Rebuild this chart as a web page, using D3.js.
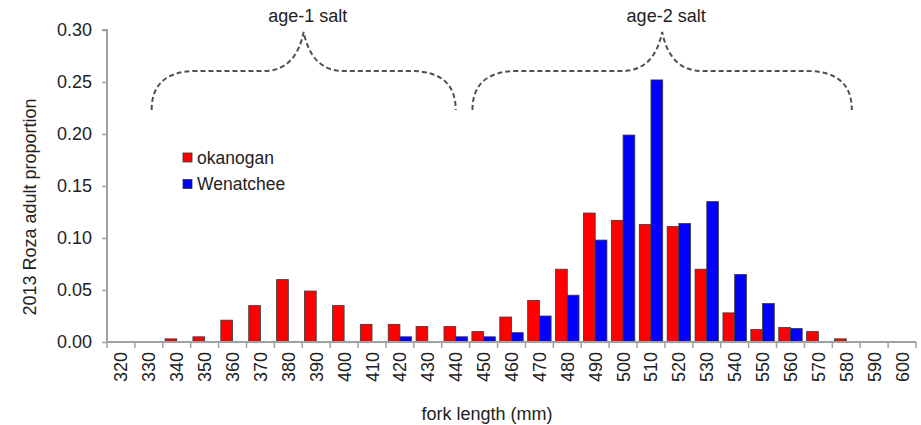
<!DOCTYPE html>
<html><head><meta charset="utf-8">
<script src="https://cdn.jsdelivr.net/npm/d3@7"></script>
<style>body{margin:0;background:#fff;}svg{display:block;font-family:"Liberation Sans",Arial,sans-serif;}</style>
</head><body><svg id="c" width="921" height="425"></svg>
<script>
const categories = [320,330,340,350,360,370,380,390,400,410,420,430,440,450,460,470,480,490,500,510,520,530,540,550,560,570,580,590,600];
const okanogan  = [0,0,0.003,0.005,0.021,0.035,0.060,0.049,0.035,0.017,0.017,0.015,0.015,0.010,0.024,0.040,0.070,0.124,0.117,0.113,0.111,0.070,0.028,0.012,0.014,0.010,0.003,0,0];
const wenatchee = [0,0,0,0,0,0,0,0,0,0,0.005,0,0.005,0.005,0.009,0.025,0.045,0.098,0.199,0.252,0.114,0.135,0.065,0.037,0.013,0,0,0,0];
const seriesNames = ["okanogan","Wenatchee"];
const seriesColors = ["#ff0000","#0000ff"];
const yTicks = [0,0.05,0.10,0.15,0.20,0.25,0.30];
const braceLabels = ["age-1 salt","age-2 salt"];
const braceFrom = [331,446];
const braceTo = [440,582];

const svg = d3.select("#c");
const x0 = 107, x1 = 916, yTop = 30, yBot = 342;
const FS = 18;

const x = d3.scaleBand().domain(categories).range([x0,x1]).paddingInner(0.16).paddingOuter(0.08);
const xb = d3.scaleBand().domain(categories).range([x0,x1]);
const xs = d3.scaleBand().domain([0,1]).range([0,x.bandwidth()]);
const y = d3.scaleLinear().domain([0,0.30]).range([yBot,yTop]);
const lenX = d3.scaleLinear().domain([320,600]).range([xb(320)+xb.bandwidth()/2, xb(600)+xb.bandwidth()/2]);

const axisCol = "#a0a0a0", textCol = "#222";

// bars
const series = [okanogan, wenatchee];
series.forEach((vals,si)=>{
  svg.append("g").selectAll("rect").data(categories.map((c,i)=>({c,v:vals[i]})).filter(d=>d.v>0))
    .join("rect")
    .attr("x",d=>x(d.c)+xs(si))
    .attr("y",d=>y(d.v))
    .attr("width",xs.bandwidth())
    .attr("height",d=>yBot-y(d.v))
    .attr("fill",seriesColors[si])
    .attr("stroke","#3a3a3a").attr("stroke-width",0.8);
});

// y axis
const ya = svg.append("g").attr("transform",`translate(${x0},0)`)
  .call(d3.axisLeft(y).tickValues(yTicks).tickFormat(d3.format(".2f")).tickSize(5).tickPadding(10));
ya.select(".domain").attr("stroke",axisCol).attr("stroke-width",2).attr("d",`M-5,${yTop}H0V${yBot}`);
ya.selectAll(".tick line").attr("stroke",axisCol).attr("stroke-width",1.5);
ya.selectAll(".tick text").attr("fill",textCol).attr("font-size",FS).attr("font-family","Liberation Sans, Arial");

// x axis
const xa = svg.append("g").attr("transform",`translate(0,${yBot})`);
xa.append("path").attr("d",`M${x0},0H${x1}`).attr("stroke",axisCol).attr("stroke-width",2);
xa.selectAll("line.t").data(categories.concat(["end"])).join("line")
  .attr("x1",(d,i)=> i<categories.length? xb(d): x1).attr("x2",(d,i)=> i<categories.length? xb(d): x1)
  .attr("y1",0).attr("y2",6).attr("stroke",axisCol).attr("stroke-width",1.5);
xa.selectAll("text").data(categories).join("text")
  .attr("transform",d=>`translate(${xb(d)+xb.bandwidth()/2+6.5},10) rotate(-90)`)
  .attr("text-anchor","end").attr("font-size",FS).attr("fill",textCol).text(d=>d);

// axis titles
svg.append("text").attr("transform",`translate(36,207) rotate(-90)`).attr("text-anchor","middle")
  .attr("font-size",FS).attr("fill",textCol).text("2013 Roza adult proportion");
svg.append("text").attr("x",487).attr("y",420).attr("text-anchor","middle")
  .attr("font-size",FS).attr("fill",textCol).text("fork length (mm)");

// legend
seriesNames.forEach((n,i)=>{
  const g = svg.append("g").attr("transform",`translate(183,${153+i*26.5})`);
  g.append("rect").attr("width",9).attr("height",9).attr("fill",seriesColors[i]).attr("stroke","#333").attr("stroke-width",0.8);
  g.append("text").attr("x",14).attr("y",10.5).attr("font-size",17.5).attr("fill",textCol).text(n);
});

// braces
braceLabels.forEach((lab,i)=>{
  const a = lenX(braceFrom[i]), b = lenX(braceTo[i]), mid = (a+b)/2;
  const yEnd = 110, yh = 71, yp = 32;
  const p = `M${a},${yEnd} Q${a},${yh} ${a+45},${yh} L${mid-40},${yh} Q${mid-8},${yh} ${mid},${yp} Q${mid+8},${yh} ${mid+40},${yh} L${b-45},${yh} Q${b},${yh} ${b},${yEnd}`;
  svg.append("path").attr("d",p).attr("fill","none").attr("stroke","#505050").attr("stroke-width",2).attr("stroke-dasharray","5,3");
  svg.append("text").attr("x",mid+4).attr("y",22).attr("text-anchor","middle").attr("font-size",FS).attr("fill",textCol).text(lab);
});
</script></body></html>
